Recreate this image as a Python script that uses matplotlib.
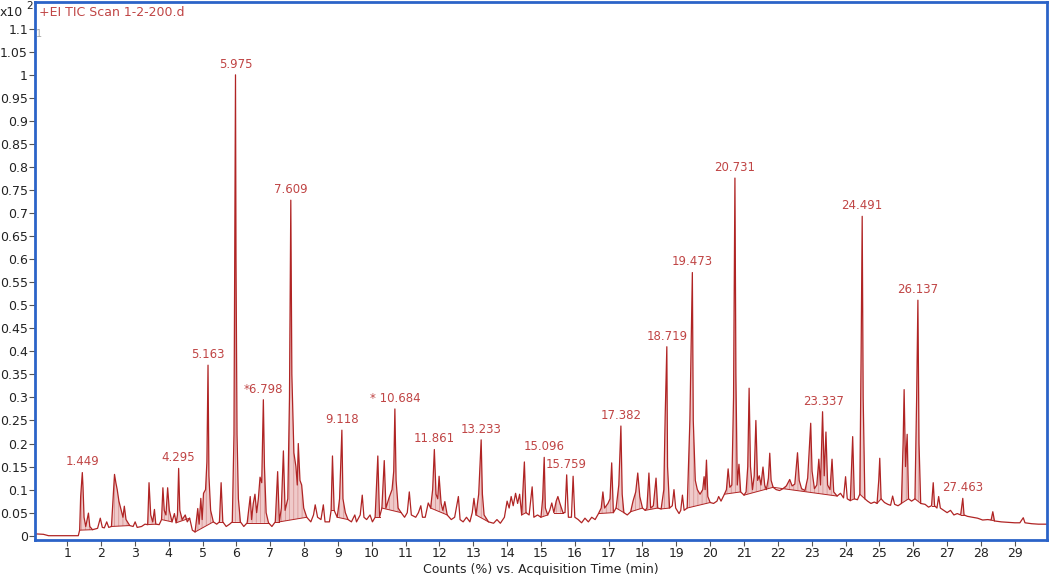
import numpy as np
import matplotlib
matplotlib.use("Agg")
import matplotlib.pyplot as plt

# TIC trace: retention time (min) and counts (x10^2 %)
time_min = [
    0.05, 0.30, 0.45, 1.33, 1.37, 1.40, 1.43, 1.449, 1.47, 1.50, 1.55, 1.63, 1.67, 1.75, 1.90, 1.98,
    2.04, 2.10, 2.17, 2.23, 2.31, 2.35, 2.40, 2.44, 2.48, 2.53, 2.60, 2.65, 2.69, 2.74, 2.85, 2.95,
    3.01, 3.07, 3.20, 3.30, 3.38, 3.42, 3.47, 3.53, 3.58, 3.62, 3.72, 3.79, 3.83, 3.87, 3.92, 3.97,
    4.02, 4.10, 4.17, 4.22, 4.26, 4.295, 4.33, 4.40, 4.49, 4.55, 4.62, 4.70, 4.78, 4.86, 4.90, 4.95,
    4.99, 5.03, 5.09, 5.13, 5.163, 5.19, 5.24, 5.32, 5.42, 5.50, 5.55, 5.60, 5.70, 5.80, 5.88, 5.93,
    5.96, 5.975, 5.99, 6.02, 6.06, 6.12, 6.22, 6.32, 6.41, 6.45, 6.50, 6.55, 6.60, 6.65, 6.70, 6.75,
    6.798, 6.83, 6.88, 6.95, 7.05, 7.15, 7.22, 7.27, 7.33, 7.39, 7.44, 7.52, 7.57, 7.609, 7.64, 7.70,
    7.76, 7.80, 7.83, 7.88, 7.93, 7.99, 8.08, 8.20, 8.28, 8.33, 8.40, 8.50, 8.57, 8.62, 8.75, 8.80,
    8.84, 8.89, 8.98, 9.05, 9.118, 9.15, 9.22, 9.30, 9.40, 9.50, 9.55, 9.66, 9.72, 9.77, 9.85, 9.95,
    10.02, 10.10, 10.18, 10.23, 10.30, 10.37, 10.42, 10.51, 10.60, 10.65, 10.684, 10.72, 10.78, 10.87, 10.97, 11.05,
    11.11, 11.17, 11.30, 11.38, 11.45, 11.50, 11.58, 11.67, 11.74, 11.80, 11.85, 11.90, 11.95, 11.99, 12.05, 12.10,
    12.16, 12.23, 12.35, 12.45, 12.56, 12.61, 12.70, 12.80, 12.90, 12.97, 13.02, 13.08, 13.16, 13.233, 13.27, 13.32,
    13.45, 13.60, 13.70, 13.80, 13.92, 14.00, 14.06, 14.12, 14.18, 14.25, 14.31, 14.37, 14.43, 14.51, 14.56, 14.65,
    14.74, 14.79, 14.90, 15.00, 15.05, 15.096, 15.13, 15.20, 15.26, 15.32, 15.38, 15.45, 15.50, 15.56, 15.65, 15.71,
    15.76, 15.81, 15.90, 15.95, 16.00, 16.10, 16.20, 16.30, 16.40, 16.50, 16.60, 16.70, 16.78, 16.83, 16.88, 16.98,
    17.04, 17.09, 17.14, 17.22, 17.30, 17.362, 17.40, 17.45, 17.55, 17.65, 17.72, 17.80, 17.86, 17.92, 18.00, 18.08,
    18.13, 18.19, 18.24, 18.32, 18.40, 18.45, 18.55, 18.63, 18.67, 18.719, 18.74, 18.80, 18.88, 18.93, 18.98, 19.08,
    19.13, 19.18, 19.23, 19.32, 19.40, 19.473, 19.50, 19.56, 19.62, 19.70, 19.78, 19.82, 19.85, 19.89, 19.93, 20.00,
    20.10, 20.20, 20.25, 20.32, 20.42, 20.48, 20.53, 20.58, 20.64, 20.69, 20.731, 20.76, 20.80, 20.85, 20.90, 21.00,
    21.06, 21.11, 21.15, 21.19, 21.25, 21.30, 21.35, 21.40, 21.45, 21.50, 21.56, 21.61, 21.66, 21.72, 21.76, 21.80,
    21.86, 21.95, 22.05, 22.15, 22.25, 22.35, 22.42, 22.50, 22.58, 22.63, 22.70, 22.80, 22.88, 22.97, 23.01, 23.08,
    23.15, 23.21, 23.26, 23.32, 23.37, 23.42, 23.47, 23.54, 23.60, 23.65, 23.75, 23.85, 23.94, 24.00, 24.05, 24.14,
    24.21, 24.26, 24.35, 24.42, 24.46, 24.491, 24.52, 24.57, 24.65, 24.75, 24.85, 24.93, 24.98, 25.01, 25.05, 25.15,
    25.25, 25.33, 25.39, 25.45, 25.55, 25.65, 25.70, 25.73, 25.77, 25.82, 25.86, 25.95, 26.05, 26.10, 26.137, 26.17,
    26.22, 26.35, 26.45, 26.54, 26.59, 26.63, 26.70, 26.75, 26.80, 26.90, 27.00, 27.10, 27.20, 27.30, 27.40, 27.463,
    27.50, 27.60, 27.75, 27.90, 28.05, 28.20, 28.30, 28.35, 28.40, 28.60, 28.80, 29.00, 29.15, 29.25, 29.30, 29.50,
    29.70, 29.95,
]
counts = [
    0.004, 0.003, 0.0, 0.0, 0.012, 0.085, 0.118, 0.137, 0.105, 0.040, 0.020, 0.049, 0.020, 0.013, 0.016, 0.038,
    0.018, 0.017, 0.030, 0.018, 0.020, 0.070, 0.133, 0.115, 0.100, 0.075, 0.055, 0.040, 0.064, 0.035, 0.022, 0.020,
    0.030, 0.018, 0.020, 0.025, 0.024, 0.115, 0.045, 0.030, 0.057, 0.025, 0.024, 0.035, 0.104, 0.055, 0.045, 0.104,
    0.055, 0.030, 0.048, 0.028, 0.045, 0.146, 0.055, 0.035, 0.045, 0.030, 0.038, 0.012, 0.008, 0.059, 0.025, 0.081,
    0.035, 0.092, 0.100, 0.160, 0.370, 0.130, 0.055, 0.030, 0.025, 0.030, 0.115, 0.030, 0.020, 0.025, 0.030, 0.220,
    0.760, 1.000, 0.600, 0.220, 0.080, 0.030, 0.020, 0.028, 0.085, 0.035, 0.070, 0.090, 0.050, 0.080, 0.127, 0.115,
    0.295, 0.150, 0.050, 0.028, 0.020, 0.030, 0.139, 0.030, 0.060, 0.184, 0.055, 0.080, 0.300, 0.728, 0.350, 0.180,
    0.150, 0.110, 0.200, 0.120, 0.110, 0.060, 0.040, 0.030, 0.045, 0.067, 0.040, 0.035, 0.067, 0.030, 0.030, 0.055,
    0.173, 0.055, 0.040, 0.080, 0.229, 0.080, 0.050, 0.035, 0.030, 0.045, 0.030, 0.045, 0.088, 0.040, 0.035, 0.045,
    0.030, 0.040, 0.173, 0.040, 0.060, 0.163, 0.060, 0.082, 0.100, 0.140, 0.275, 0.120, 0.060, 0.050, 0.040, 0.050,
    0.095, 0.045, 0.040, 0.050, 0.065, 0.040, 0.040, 0.071, 0.060, 0.100, 0.187, 0.090, 0.080, 0.129, 0.070, 0.055,
    0.074, 0.045, 0.035, 0.040, 0.085, 0.035, 0.030, 0.040, 0.030, 0.050, 0.081, 0.045, 0.090, 0.208, 0.090, 0.045,
    0.030, 0.027, 0.035, 0.027, 0.040, 0.075, 0.060, 0.085, 0.065, 0.092, 0.070, 0.090, 0.045, 0.160, 0.050, 0.045,
    0.106, 0.040, 0.045, 0.040, 0.080, 0.170, 0.060, 0.045, 0.055, 0.071, 0.050, 0.075, 0.085, 0.070, 0.050, 0.050,
    0.132, 0.040, 0.040, 0.129, 0.040, 0.035, 0.028, 0.038, 0.030, 0.040, 0.035, 0.048, 0.060, 0.095, 0.060, 0.070,
    0.080, 0.158, 0.050, 0.060, 0.110, 0.238, 0.090, 0.050, 0.045, 0.052, 0.075, 0.095, 0.136, 0.085, 0.060, 0.055,
    0.060, 0.136, 0.060, 0.065, 0.125, 0.060, 0.058, 0.100, 0.260, 0.410, 0.150, 0.060, 0.065, 0.100, 0.060, 0.048,
    0.055, 0.088, 0.055, 0.060, 0.250, 0.571, 0.250, 0.120, 0.100, 0.090, 0.100, 0.128, 0.100, 0.164, 0.085, 0.072,
    0.070, 0.075, 0.085, 0.075, 0.090, 0.100, 0.145, 0.105, 0.110, 0.300, 0.776, 0.350, 0.110, 0.155, 0.095, 0.088,
    0.095, 0.150, 0.320, 0.150, 0.100, 0.130, 0.250, 0.120, 0.130, 0.110, 0.149, 0.110, 0.100, 0.125, 0.179, 0.120,
    0.105, 0.100, 0.098, 0.102, 0.108, 0.122, 0.108, 0.112, 0.180, 0.120, 0.102, 0.098, 0.125, 0.244, 0.140, 0.102,
    0.110, 0.166, 0.110, 0.269, 0.130, 0.225, 0.110, 0.100, 0.166, 0.095, 0.086, 0.092, 0.082, 0.128, 0.080, 0.076,
    0.215, 0.080, 0.078, 0.090, 0.400, 0.693, 0.300, 0.080, 0.075, 0.070, 0.073, 0.070, 0.120, 0.168, 0.080, 0.072,
    0.068, 0.066, 0.086, 0.068, 0.065, 0.070, 0.200, 0.317, 0.150, 0.220, 0.080, 0.075, 0.080, 0.300, 0.511, 0.200,
    0.070, 0.068, 0.062, 0.065, 0.115, 0.065, 0.060, 0.085, 0.060, 0.055, 0.050, 0.055, 0.045, 0.048, 0.045, 0.081,
    0.045, 0.042, 0.040, 0.038, 0.034, 0.035, 0.034, 0.052, 0.032, 0.030, 0.029, 0.028, 0.028, 0.039, 0.028, 0.026,
    0.025, 0.025,
]

# integrated (shaded) peak windows, start/end in minutes
integ_start = [1.37, 2.31, 3.38, 3.79, 4.22, 4.78, 5.50, 5.88, 6.32, 7.15, 7.27, 8.80, 8.98, 10.10, 10.30,
               11.74, 13.08, 14.43, 15.00, 15.38, 16.70, 17.22, 17.65, 18.08, 18.55, 19.32, 20.42, 21.00, 21.86,
               24.14, 24.42, 24.93, 25.65, 26.05, 26.54, 27.40, 28.30]
integ_end = [1.75, 2.85, 3.62, 4.10, 4.62, 5.32, 5.60, 6.12, 6.95, 7.27, 8.08, 8.89, 9.30, 10.23, 10.87,
             12.23, 13.45, 14.56, 15.20, 15.65, 17.14, 17.45, 18.00, 18.45, 18.80, 20.00, 20.90, 21.86, 23.75,
             24.26, 24.57, 25.05, 25.86, 26.22, 26.63, 27.50, 28.40]

# peak labels
label_rt = [1.449, 4.295, 5.163, 5.975, 6.798, 7.609, 9.118, 10.684, 11.861, 13.233,
            15.096, 15.759, 17.382, 18.719, 19.473, 20.731, 23.337, 24.491, 26.137, 27.463]
label_text = ["1.449", "4.295", "5.163", "5.975", "*6.798", "7.609", "9.118", "* 10.684", "11.861", "13.233",
              "15.096", "15.759", "17.382", "18.719", "19.473", "20.731", "23.337", "24.491", "26.137", "27.463"]
label_h = [0.137, 0.146, 0.370, 1.000, 0.295, 0.728, 0.229, 0.275, 0.187, 0.208,
           0.170, 0.132, 0.238, 0.410, 0.571, 0.776, 0.269, 0.693, 0.511, 0.081]

line_red = "#b02424"
text_red = "#c04545"
fill_pink = "#efcaca"
hatch_pink = "#d48c8c"
frame_blue = "#2b63c8"

plt.rcParams["hatch.linewidth"] = 0.5
t = np.array(time_min)
y = np.array(counts)

fig = plt.figure(figsize=(10.5, 5.75), dpi=100)
ax = fig.add_axes([0.0333, 0.0609, 0.9638, 0.9356])

# shaded integrations down to a straight baseline between window ends
for t0, t1 in zip(integ_start, integ_end):
    m = (t >= t0) & (t <= t1)
    b0, b1 = np.interp(t0, t, y), np.interp(t1, t, y)
    base = b0 + (b1 - b0) * (t[m] - t0) / (t1 - t0)
    ax.fill_between(t[m], y[m], base, where=y[m] >= base, interpolate=True,
                    facecolor=fill_pink, edgecolor=hatch_pink, hatch="||||", linewidth=0)
    ax.plot([t0, t1], [b0, b1], color=line_red, lw=0.7)

ax.plot(t, y, color=line_red, lw=0.9)

for rt, txt, h in zip(label_rt, label_text, label_h):
    ax.annotate(txt, (rt, h), xytext=(0, 3), textcoords="offset points",
                ha="center", va="bottom", color=text_red, fontsize=8.5)

ax.set_xlim(0.05, 29.95)
ax.set_ylim(-0.0093, 1.158)
ax.set_xticks(np.arange(1, 30))
ax.set_yticks(np.arange(0, 1.1001, 0.05))
ax.set_yticklabels([f"{v:.2f}".rstrip("0").rstrip(".") for v in np.arange(0, 1.1001, 0.05)])
ax.tick_params(axis="both", direction="out", length=4, color="#555555", labelsize=9,
               labelcolor="#222222", pad=1)
for s in ax.spines.values():
    s.set_color(frame_blue)
    s.set_linewidth(2)

ax.set_xlabel("Counts (%) vs. Acquisition Time (min)", fontsize=9, color="#222222", labelpad=2)
ax.text(0.004, 0.992, "+EI TIC Scan 1-2-200.d", transform=ax.transAxes, ha="left", va="top",
        color=text_red, fontsize=9)
fig.text(0.0, 0.979, "x10", ha="left", va="center", fontsize=9, color="#222222")
fig.text(0.025, 0.99, "2", ha="left", va="center", fontsize=7.5, color="#222222")
ax.text(0.001, 0.94, "1", transform=ax.transAxes, ha="left", va="center", fontsize=7, color="#aaaaaa")

fig.savefig("out.png", dpi=100)
